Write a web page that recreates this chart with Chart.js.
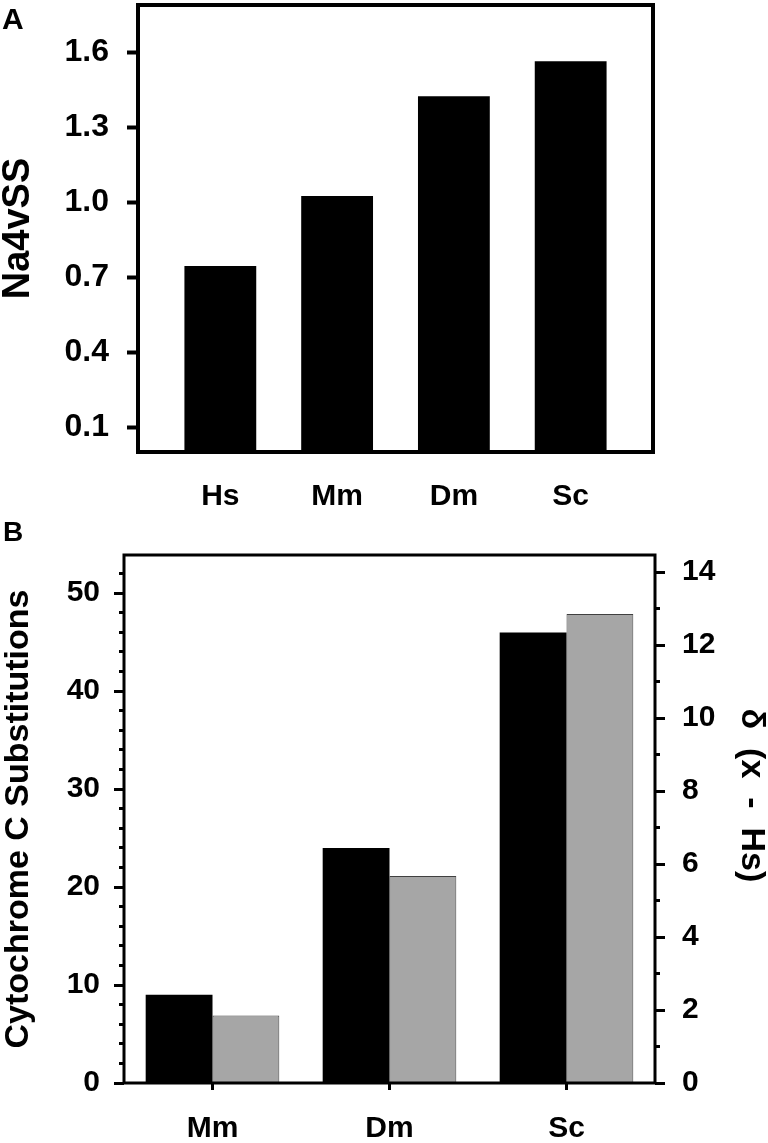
<!DOCTYPE html>
<html>
<head>
<meta charset="utf-8">
<script src="https://cdn.jsdelivr.net/npm/chart.js@4.4.0/dist/chart.umd.min.js"></script>
<style>
  body { margin: 0; background: #fff; width: 768px; height: 1143px; position: relative; overflow: hidden; }
  canvas { position: absolute; left: 0; }
</style>
</head>
<body>
<canvas id="chartA" width="768" height="520" style="top:0"></canvas>
<canvas id="chartB" width="768" height="623" style="top:520px"></canvas>
<script>
// panel A data
const speciesA = ['Hs', 'Mm', 'Dm', 'Sc'];
const na4vssValues = [0.745, 1.025, 1.425, 1.565];
const na4vssTicks = [0.1, 0.4, 0.7, 1.0, 1.3, 1.6];

// panel B data
const speciesB = ['Mm', 'Dm', 'Sc'];
const substitutionValues = [9, 24, 46];
const deltaValues = [1.85, 5.67, 12.85];

const FONT = "'Liberation Sans', Arial, sans-serif";
Chart.defaults.font.family = FONT;
Chart.defaults.color = '#000';

// box round the plot area + the panel letter in the corner
const framePlugin = {
    id: 'frame',
    afterDraw(chart, args, opts) {
        const {ctx, chartArea} = chart;
        ctx.save();
        ctx.strokeStyle = '#000';
        ctx.lineWidth = opts.width;
        ctx.strokeRect(chartArea.left, chartArea.top, chartArea.right - chartArea.left, chartArea.bottom - chartArea.top);
        ctx.fillStyle = '#000';
        ctx.font = `bold ${opts.letterSize}px ${FONT}`;
        ctx.textBaseline = 'alphabetic';
        ctx.fillText(opts.letter, opts.letterX, opts.letterY);
        ctx.restore();
    }
};

new Chart(document.getElementById('chartA'), {
    type: 'bar',
    data: {
        datasets: [{
            data: speciesA.map((s, i) => ({x: i, y: na4vssValues[i]})),
            backgroundColor: '#000',
            categoryPercentage: 0.615,
            barPercentage: 1,
        }],
    },
    options: {
        responsive: false,
        animation: false,
        layout: {padding: {top: 5, right: 115, bottom: 0, left: 0}},
        plugins: {
            legend: {display: false}, tooltip: {enabled: false},
            frame: {width: 4, letter: 'A', letterSize: 30, letterX: 2, letterY: 29},
        },
        scales: {
            x: {
                type: 'linear', min: -0.705, max: 3.705, offset: false,
                afterBuildTicks: s => { s.ticks = speciesA.map((_, i) => ({value: i})); },
                afterFit: s => { s.height = 68; s.paddingLeft = 0; s.paddingRight = 0; },
                grid: {display: false, drawTicks: false},
                border: {display: false},
                ticks: {callback: v => speciesA[v], autoSkip: false, maxRotation: 0, padding: 27, font: {size: 30, weight: 'bold'}},
            },
            y: {
                min: 0, max: 1.79,
                afterBuildTicks: s => { s.ticks = na4vssTicks.map(v => ({value: v})); },
                afterFit: s => { s.width = 138; s.paddingTop = 0; s.paddingBottom = 0; },
                grid: {drawOnChartArea: false, tickLength: 11, tickWidth: 4, tickColor: '#000'},
                border: {display: false},
                ticks: {callback: v => v.toFixed(1), padding: 18, font: {size: 32, weight: 'bold'}},
                title: {display: true, text: 'Na4vSS', padding: 0, font: {size: 38, weight: 'bold', lineHeight: 1}},
            },
        },
    },
    plugins: [framePlugin],
});

new Chart(document.getElementById('chartB'), {
    type: 'bar',
    data: {
        labels: speciesB,
        datasets: [{
            data: substitutionValues,
            backgroundColor: '#000',
            yAxisID: 'y',
            categoryPercentage: 0.755,
            barPercentage: 1,
        }, {
            data: deltaValues,
            backgroundColor: '#a6a6a6',
            borderColor: '#404040',
            borderWidth: 1,
            yAxisID: 'y1',
            categoryPercentage: 0.755,
            barPercentage: 1,
        }],
    },
    options: {
        responsive: false,
        animation: false,
        layout: {padding: {top: 35, right: 0, bottom: 0, left: 0}},
        plugins: {
            legend: {display: false}, tooltip: {enabled: false},
            frame: {width: 3, letter: 'B', letterSize: 28, letterX: 3, letterY: 21},
        },
        scales: {
            x: {
                afterFit: s => { s.height = 60; },
                grid: {offset: false, drawOnChartArea: false, tickLength: 7, tickWidth: 3, tickColor: '#000'},
                border: {display: false},
                ticks: {padding: 21, maxRotation: 0, font: {size: 30, weight: 'bold'}},
            },
            y: {
                position: 'left', min: 0, max: 53.9,
                afterFit: s => { s.width = 124; },
                grid: {
                    drawOnChartArea: false, tickLength: 10, tickWidth: 3, tickColor: '#000',
                    tickBorderDash: c => (c.tick && c.tick.value % 10 === 0) ? [] : [0, 5, 5, 0],
                },
                border: {display: false},
                ticks: {stepSize: 2, includeBounds: false, autoSkip: false, padding: 14,
                        callback: v => v % 10 === 0 ? v : '', font: {size: 30, weight: 'bold'}},
                title: {display: true, text: 'Cytochrome C Substitutions', padding: {top: 2, bottom: 0},
                        font: {size: 34, weight: 'bold', lineHeight: 1}},
            },
            y1: {
                position: 'right', min: 0, max: 14.47,
                afterFit: s => { s.width = 113; },
                grid: {
                    drawOnChartArea: false, tickLength: 10, tickWidth: 3, tickColor: '#000',
                    tickBorderDash: c => (c.tick && c.tick.value % 2 === 0) ? [] : [5, 5],
                },
                border: {display: false},
                ticks: {stepSize: 1, includeBounds: false, autoSkip: false, padding: 17,
                        callback: v => v % 2 === 0 ? v : '', font: {size: 30, weight: 'bold'}},
                title: {display: true, text: 'δ  (x  -  Hs)     ', padding: 0, font: {size: 34, weight: 'bold', lineHeight: 1}},
            },
        },
    },
    plugins: [framePlugin],
});
</script>
</body>
</html>
